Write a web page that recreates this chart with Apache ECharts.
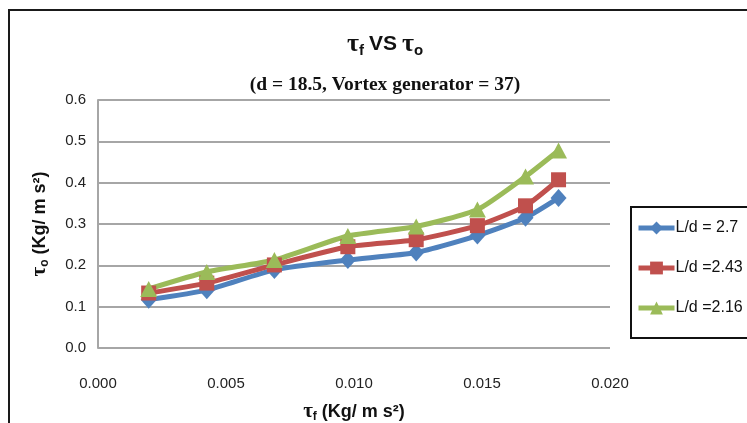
<!DOCTYPE html>
<html>
<head>
<meta charset="utf-8">
<title>tau_f vs tau_o</title>
<script src="https://cdn.jsdelivr.net/npm/echarts@6/dist/echarts.min.js"></script>
<style>
  html, body { margin: 0; padding: 0; background: #fff; }
  #chart1 { width: 747px; height: 423px; }
</style>
</head>
<body>
<div id="chart1"></div>
<script>
// 数据：横轴 tau_f，三条曲线 tau_o
var tauF = [0.00198, 0.00425, 0.00689, 0.00976, 0.01243, 0.01482, 0.0167, 0.01799];
var ld27 = [0.117, 0.140, 0.189, 0.213, 0.231, 0.272, 0.315, 0.363];
var ld243 = [0.133, 0.157, 0.201, 0.245, 0.262, 0.296, 0.344, 0.407];
var ld216 = [0.143, 0.184, 0.213, 0.271, 0.294, 0.335, 0.415, 0.478];
var seriesNames = ['L/d = 2.7', 'L/d =2.43', 'L/d =2.16'];
var xTicks = { min: 0, max: 0.02, step: 0.005 };
var yTicks = { min: 0, max: 0.6, step: 0.1 };

var narrow = "'Liberation Sans Narrow', 'Arial Narrow', 'Liberation Sans', Arial, sans-serif";

function pairs(ys) {
    return tauF.map(function (x, i) { return [x, ys[i]]; });
}

var myChart1 = echarts.init(document.getElementById('chart1'));
myChart1.setOption({
    animation: false,
    backgroundColor: '#fff',
    graphic: [{
        type: 'rect',
        shape: { x: 9, y: 10, width: 800, height: 500 },
        style: { fill: 'none', stroke: '#1a1a1a', lineWidth: 2 },
        silent: true
    }],
    title: [{
        left: 380, top: 25, textAlign: 'center',
        text: '{t|τ}{s|f} {b|VS} {t|τ}{s|o}',
        textStyle: {
            rich: {
                t: { fontFamily: 'Liberation Serif', fontSize: 26, color: '#111', fontWeight: 'bold' },
                s: { fontFamily: narrow, fontSize: 15, fontWeight: 'bold', color: '#111', padding: [13, 0, 0, 0] },
                b: { fontFamily: narrow, fontSize: 21, fontWeight: 'bold', color: '#111' }
            }
        }
    }, {
        left: 380, top: 70, textAlign: 'center',
        text: '(d = 18.5, Vortex generator = 37)',
        textStyle: { fontFamily: 'Liberation Serif', fontSize: 19.5, fontWeight: 'bold', color: '#111' }
    }],
    legend: {
        orient: 'vertical',
        left: 631, top: 207,
        padding: [13, 8, 22, 5],
        itemGap: 24,
        itemWidth: 36, itemHeight: 16,
        borderColor: '#111', borderWidth: 2,
        lineStyle: { width: 5 },
        textStyle: { fontFamily: narrow, fontSize: 16, color: '#111', padding: [0, 0, 0, -4] },
        data: seriesNames
    },
    grid: { left: 98, right: 137, top: 100, bottom: 75, outerBoundsMode: 'none', containLabel: false },
    xAxis: {
        type: 'value',
        min: xTicks.min, max: xTicks.max, interval: xTicks.step,
        name: '{t|τ}{s|f}{n| (Kg/ m s²)}',
        nameLocation: 'middle', nameGap: 53,
        nameTextStyle: {
            rich: {
                t: { fontFamily: 'Liberation Serif', fontSize: 21, fontWeight: 'bold', color: '#111' },
                s: { fontFamily: narrow, fontSize: 12, fontWeight: 'bold', color: '#111', padding: [10, 0, 0, 0] },
                n: { fontFamily: narrow, fontSize: 18, fontWeight: 'bold', color: '#111' }
            }
        },
        axisLine: { show: false },
        axisTick: { show: false },
        splitLine: { show: false },
        axisLabel: {
            margin: 28, fontFamily: narrow, fontSize: 15, color: '#222',
            formatter: function (v) { return v.toFixed(3); }
        }
    },
    yAxis: {
        type: 'value',
        min: yTicks.min, max: yTicks.max, interval: yTicks.step,
        name: '{t|τ}{s|o}{n| (Kg/ m s²)}',
        nameLocation: 'middle', nameGap: 47, nameRotate: 90,
        nameTextStyle: {
            rich: {
                t: { fontFamily: 'Liberation Serif', fontSize: 21, fontWeight: 'bold', color: '#111' },
                s: { fontFamily: narrow, fontSize: 12, fontWeight: 'bold', color: '#111', padding: [10, 0, 0, 0] },
                n: { fontFamily: narrow, fontSize: 18, fontWeight: 'bold', color: '#111' }
            }
        },
        axisLine: { show: true, lineStyle: { color: '#a6a6a6', width: 2 } },
        axisTick: { show: false },
        splitLine: { show: true, lineStyle: { color: '#a6a6a6', width: 2 } },
        axisLabel: {
            margin: 12, fontFamily: narrow, fontSize: 15, color: '#222',
            formatter: function (v) { return v.toFixed(1); }
        }
    },
    series: [{
        name: seriesNames[0], type: 'line', smooth: 0.2,
        data: pairs(ld27),
        symbol: 'diamond', symbolSize: [16, 18],
        color: '#4f81bd',
        lineStyle: { width: 5, color: '#4f81bd' },
        itemStyle: { color: '#4f81bd' }
    }, {
        name: seriesNames[1], type: 'line', smooth: 0.2,
        data: pairs(ld243),
        symbol: 'rect', symbolSize: 15,
        color: '#c0504d',
        lineStyle: { width: 5, color: '#c0504d' },
        itemStyle: { color: '#c0504d' }
    }, {
        name: seriesNames[2], type: 'line', smooth: 0.2,
        data: pairs(ld216),
        symbol: 'triangle', symbolSize: [17, 16],
        color: '#9bbb59',
        lineStyle: { width: 5, color: '#9bbb59' },
        itemStyle: { color: '#9bbb59' }
    }]
});
</script>
</body>
</html>
